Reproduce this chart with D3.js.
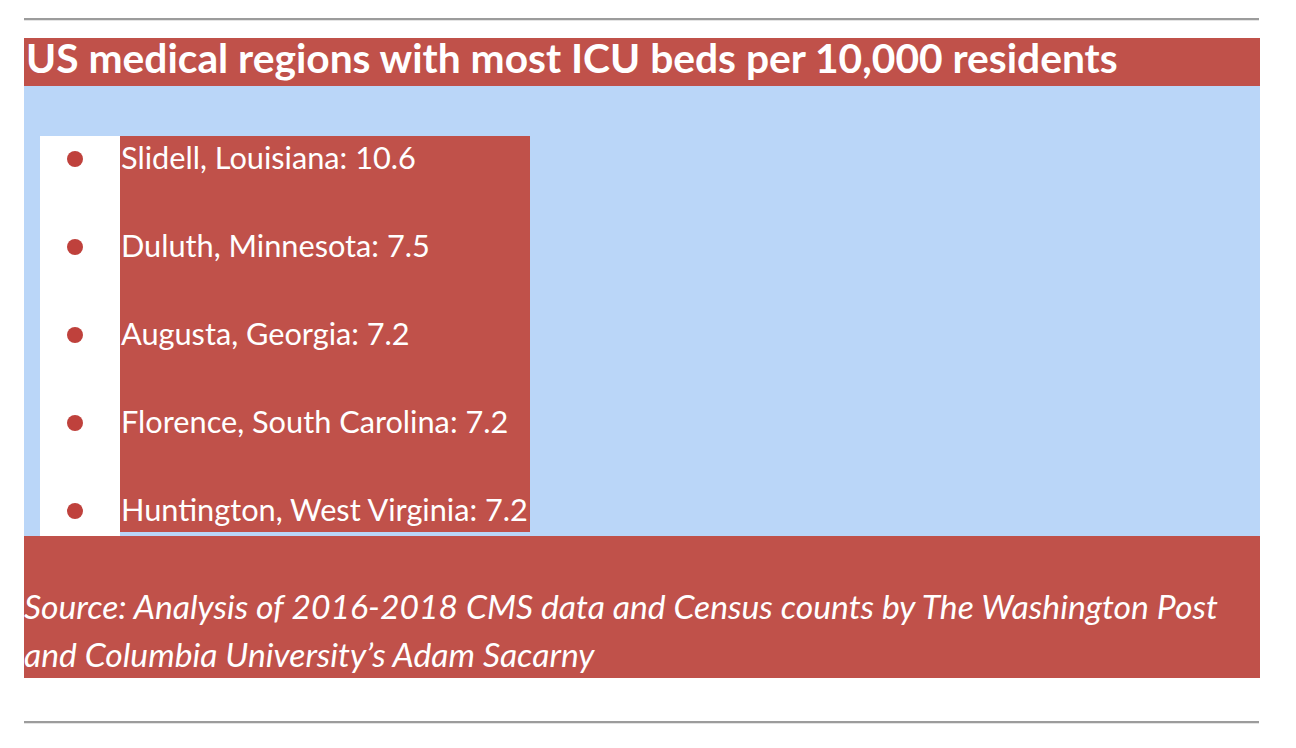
<!DOCTYPE html>
<html>
<head>
<meta charset="utf-8">
<script src="https://cdn.jsdelivr.net/npm/d3@7"></script>
<style>
  body { margin:0; background:#fff; }
  svg { display:block; font-family: Lato, "Open Sans", sans-serif; }
</style>
</head>
<body>
<div id="chart"></div>
<script>
// data
const titleText = "US medical regions with most ICU beds per 10,000 residents";
const regions = ["Slidell, Louisiana", "Duluth, Minnesota", "Augusta, Georgia", "Florence, South Carolina", "Huntington, West Virginia"];
const beds = [10.6, 7.5, 7.2, 7.2, 7.2];
const sourceLines = [
  "Source: Analysis of 2016-2018 CMS data and Census counts by The Washington Post",
  "and Columbia University\u2019s Adam Sacarny"
];

const W = 1296, H = 748;
const red = "#c0514a", blue = "#bad6f8";

const svg = d3.select('#chart').append('svg')
  .attr('width', W)
  .attr('height', H);

// fit a text element to a wanted width
function fitWidth(sel, target){
  const w = sel.node().getComputedTextLength();
  const fs = parseFloat(sel.attr('font-size'));
  sel.attr('font-size', fs * target / w);
}

// rules top & bottom
[18, 721].forEach(y => {
  svg.append('rect').attr('x', 24).attr('y', y).attr('width', 1235).attr('height', 2).attr('fill', '#9c9c9c');
  svg.append('rect').attr('x', 24).attr('y', y + 2).attr('width', 1235).attr('height', 1).attr('fill', '#e4e4e4');
});

// title bar
svg.append('rect').attr('x', 24).attr('y', 38).attr('width', 1236).attr('height', 48).attr('fill', red);
const title = svg.append('text')
  .attr('x', 26).attr('y', 73)
  .attr('fill', '#fff')
  .attr('font-weight', 700)
  .attr('font-size', 34)
  .text(titleText);
fitWidth(title, 1092);

// list area
svg.append('rect').attr('x', 24).attr('y', 86).attr('width', 1236).attr('height', 450).attr('fill', blue);
svg.append('rect').attr('x', 40).attr('y', 136).attr('width', 80).attr('height', 400).attr('fill', '#fff');
svg.append('rect').attr('x', 120).attr('y', 136).attr('width', 410).attr('height', 396).attr('fill', red);

const y = d3.scalePoint()
  .domain(regions)
  .range([159, 511]);

const items = svg.selectAll('.item')
  .data(regions.map((r, i) => ({region: r, value: beds[i]})))
  .enter().append('g')
  .attr('class', 'item')
  .attr('transform', d => `translate(0, ${y(d.region)})`);

items.append('circle')
  .attr('cx', 75)
  .attr('r', 8)
  .attr('fill', '#bf413c');

const labels = items.append('text')
  .attr('x', 121)
  .attr('y', 10)
  .attr('fill', '#fff')
  .attr('font-size', 26)
  .text(d => `${d.region}: ${d.value}`);

// size labels so the longest one matches
const longest = labels.filter((d, i) => i === regions.length - 1);
const lw = longest.node().getComputedTextLength();
labels.attr('font-size', 26 * 407 / lw);

// footer
svg.append('rect').attr('x', 24).attr('y', 536).attr('width', 1236).attr('height', 142).attr('fill', red);
const src = svg.selectAll('.src')
  .data(sourceLines)
  .enter().append('text')
  .attr('class', 'src')
  .attr('x', 24)
  .attr('y', (d, i) => 619 + i * 48)
  .attr('fill', '#fff')
  .attr('font-style', 'italic')
  .attr('font-size', 26)
  .text(d => d);
const sw = src.filter((d, i) => i === 0).node().getComputedTextLength();
src.attr('font-size', 26 * 1194 / sw);
</script>
</body>
</html>
